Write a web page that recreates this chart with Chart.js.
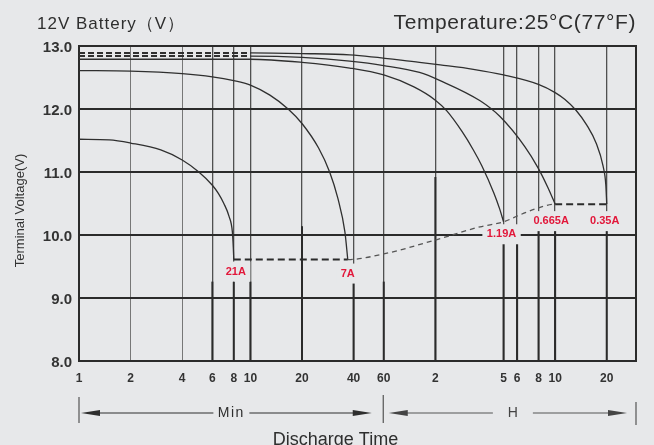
<!DOCTYPE html>
<html>
<head>
<meta charset="utf-8">
<script src="https://cdn.jsdelivr.net/npm/chart.js@4.4.1/dist/chart.umd.min.js"></script>
<style>
  html, body { margin: 0; padding: 0; background: #e7e8ea; }
  #wrap { width: 654px; height: 445px; overflow: hidden; }
</style>
</head>
<body>
<div id="wrap"><canvas id="chart" width="654" height="445"></canvas></div>
<script>
// discharge time in minutes (log axis), terminal voltage in V
var xTickValues = [1, 2, 4, 6, 8, 10, 20, 40, 60, 120, 300, 360, 480, 600, 1200];
var xTickLabels = ['1', '2', '4', '6', '8', '10', '20', '40', '60', '2', '5', '6', '8', '10', '20'];

var curveNames = ['21A', '7A', '1.19A', '0.665A', '0.35A'];

var t21 = [1, 1.5, 2, 3, 4, 5, 6, 6.5, 7, 7.5, 7.85, 7.95, 8];
var v21 = [11.52, 11.51, 11.46, 11.35, 11.19, 11.0, 10.79, 10.66, 10.5, 10.3, 10.05, 9.8, 9.61];

var t7 = [1, 2, 4, 6, 8, 10, 13, 16.6, 20, 25, 29, 32.4, 35.6, 37];
var v7 = [12.61, 12.6, 12.56, 12.51, 12.45, 12.38, 12.22, 12.0, 11.77, 11.38, 11.0, 10.58, 10.05, 9.61];

var t119 = [1, 10, 20, 38, 60, 90, 120, 140, 172, 200, 224, 264, 285, 300];
var v119 = [12.79, 12.79, 12.74, 12.65, 12.54, 12.35, 12.14, 11.97, 11.64, 11.35, 11.1, 10.66, 10.41, 10.21];

var t0665 = [1, 10, 20, 38, 60, 97, 128, 219, 286, 400, 476, 545, 600];
var v0665 = [12.84, 12.84, 12.82, 12.76, 12.69, 12.58, 12.45, 12.13, 11.88, 11.4, 11.07, 10.75, 10.49];

var t035 = [1, 10, 20, 38, 97, 128, 200, 300, 479, 600, 685, 794, 920, 1040, 1141, 1185, 1200];
var v035 = [12.89, 12.89, 12.88, 12.86, 12.74, 12.7, 12.63, 12.54, 12.39, 12.26, 12.15, 11.98, 11.74, 11.46, 11.1, 10.8, 10.49];

// end-of-discharge line
var tCut = [8, 37, 60, 120, 219, 300, 374, 465, 600, 1200];
var vCut = [9.61, 9.61, 9.7, 9.92, 10.13, 10.21, 10.32, 10.42, 10.49, 10.49];

var curveTimes = [t21, t7, t119, t0665, t035];
var curveVolts = [v21, v7, v119, v0665, v035];
var dashedStart = [false, false, false, true, true];

var BG = '#e7e8ea';
var FONT = '"Liberation Sans", Arial, sans-serif';
var labelFont = 'bold 11px ' + FONT;
var labelOffsets = [[2, 12], [0, 14], [-2, 12.5], [-4, 17], [-2, 17]];
// vertical lines drawn darker below a given voltage
var darkLower = [[6, 9.26], [8, 9.26], [10, 9.26], [20, 10.14], [40, 9.26], [60, 9.26],
                 [120, 10.92], [300, 9.89], [360, 9.89], [480, 10.07], [600, 10.07], [1200, 10.07]];

function points(ts, vs) {
  return ts.map(function(t, i) { return { x: t, y: vs[i] }; });
}

var datasets = curveNames.map(function(name, i) {
  var ds = {
    label: name,
    data: points(curveTimes[i], curveVolts[i]),
    borderColor: '#2f2f2f',
    borderWidth: 1.3,
    pointRadius: 0,
    cubicInterpolationMode: 'monotone'
  };
  if (dashedStart[i]) {
    ds.segment = {
      borderDash: function(ctx) { return ctx.p1.parsed.x <= 10 ? [6, 3] : []; },
      borderWidth: function(ctx) { return ctx.p1.parsed.x <= 10 ? 2 : 1.3; }
    };
  }
  return ds;
});

datasets.push({
  label: 'cutoff',
  data: points(tCut, vCut),
  borderColor: '#555',
  borderWidth: 1.3,
  pointRadius: 0,
  cubicInterpolationMode: 'monotone',
  segment: {
    borderDash: function(ctx) { return ctx.p0.parsed.y === ctx.p1.parsed.y ? [7, 4] : [5, 4]; },
    borderWidth: function(ctx) { return ctx.p0.parsed.y === ctx.p1.parsed.y ? 2 : 1.3; },
    borderColor: function(ctx) { return ctx.p0.parsed.y === ctx.p1.parsed.y ? '#2b2b2b' : '#555'; }
  }
});

function labelPositions(chart) {
  return curveNames.map(function(name, i) {
    var els = chart.getDatasetMeta(i).data;
    var last = els[els.length - 1];
    return { text: name, x: last.x + labelOffsets[i][0], y: last.y + labelOffsets[i][1] };
  });
}

function arrowHead(ctx, tipX, y, dir) {
  ctx.beginPath();
  ctx.moveTo(tipX, y);
  ctx.lineTo(tipX - dir * 19, y - 3);
  ctx.lineTo(tipX - dir * 19, y + 3);
  ctx.closePath();
  ctx.fill();
}

function arrowSpan(ctx, x1, x2, y, text, textX, gap) {
  ctx.beginPath();
  ctx.moveTo(x1 + 10, y); ctx.lineTo(textX - gap, y);
  ctx.moveTo(textX + gap, y); ctx.lineTo(x2 - 10, y);
  ctx.stroke();
  arrowHead(ctx, x1, y, -1);
  arrowHead(ctx, x2, y, 1);
  ctx.fillText(text, textX, y);
}

var decor = {
  id: 'decor',
  beforeDatasetsDraw: function(chart) {
    var ctx = chart.ctx, xs = chart.scales.x, ys = chart.scales.y, a = chart.chartArea;
    ctx.save();
    ctx.strokeStyle = '#2b2b2b';
    ctx.lineWidth = 2;
    darkLower.forEach(function(d) {
      var x = xs.getPixelForValue(d[0]);
      ctx.beginPath();
      ctx.moveTo(x, ys.getPixelForValue(d[1]));
      ctx.lineTo(x, a.bottom);
      ctx.stroke();
    });
    ctx.beginPath();
    ctx.moveTo(a.right, a.top - 1);
    ctx.lineTo(a.right, a.bottom + 1);
    ctx.stroke();
    // clear the grid behind the current labels
    ctx.font = labelFont;
    ctx.fillStyle = BG;
    labelPositions(chart).forEach(function(p) {
      var w = ctx.measureText(p.text).width + 9;
      ctx.fillRect(p.x - w / 2, p.y - 10, w, 20);
    });
    ctx.restore();
  },
  afterDatasetsDraw: function(chart) {
    var ctx = chart.ctx;
    ctx.save();
    ctx.font = labelFont;
    ctx.fillStyle = '#e2173a';
    ctx.textAlign = 'center';
    ctx.textBaseline = 'middle';
    labelPositions(chart).forEach(function(p) {
      ctx.fillText(p.text, p.x, p.y);
    });
    ctx.restore();
  },
  afterDraw: function(chart) {
    var ctx = chart.ctx, xs = chart.scales.x, a = chart.chartArea;
    ctx.save();
    ctx.fillStyle = '#2e2e2e';
    ctx.textBaseline = 'alphabetic';

    ctx.font = '17px ' + FONT;
    ctx.letterSpacing = '1px';
    ctx.textAlign = 'left';
    ctx.fillText('12V Battery（V）', 37, 28.5);

    ctx.font = '21px ' + FONT;
    ctx.letterSpacing = '0.6px';
    ctx.textAlign = 'right';
    ctx.fillText('Temperature:25°C(77°F)', 636, 28.5);

    // y axis title
    ctx.letterSpacing = '0px';
    ctx.font = '13px ' + FONT;
    ctx.fillStyle = '#333';
    ctx.save();
    ctx.translate(20, (a.top + a.bottom) / 2 + 7);
    ctx.rotate(-Math.PI / 2);
    ctx.textAlign = 'center';
    ctx.textBaseline = 'middle';
    ctx.fillText('Terminal Voltage(V)', 0, 0);
    ctx.restore();

    // Min / H spans under the axis
    var x1 = xs.getPixelForValue(1), x60 = xs.getPixelForValue(60), xr = a.right;
    var y = a.bottom + 52;
    ctx.strokeStyle = '#555';
    ctx.lineWidth = 1.2;
    ctx.beginPath();
    ctx.moveTo(x1, a.bottom + 36); ctx.lineTo(x1, a.bottom + 62);
    ctx.moveTo(x60 - 0.5, a.bottom + 34); ctx.lineTo(x60 - 0.5, a.bottom + 62);
    ctx.moveTo(xr, a.bottom + 41); ctx.lineTo(xr, a.bottom + 64);
    ctx.stroke();

    ctx.textAlign = 'center';
    ctx.textBaseline = 'middle';
    ctx.fillStyle = '#2e2e2e';
    ctx.strokeStyle = '#2e2e2e';
    ctx.font = '14px ' + FONT;
    ctx.letterSpacing = '1.5px';
    arrowSpan(ctx, x1 + 2, x60 - 12, y, 'Min', (x1 + x60) / 2, 18);
    ctx.fillStyle = '#444';
    ctx.strokeStyle = '#555';
    ctx.letterSpacing = '0px';
    arrowSpan(ctx, x60 + 5, xr - 9, y, 'H', (x60 + xr) / 2 + 3, 20);

    ctx.fillStyle = '#2e2e2e';
    ctx.font = '18px ' + FONT;
    ctx.textBaseline = 'alphabetic';
    ctx.fillText('Discharge Time', (a.left + a.right) / 2 - 22, 445);
    ctx.restore();
  }
};

new Chart(document.getElementById('chart'), {
  type: 'line',
  data: { datasets: datasets },
  options: {
    responsive: false,
    animation: false,
    layout: { padding: { top: 46, right: 18, bottom: 54, left: 0 } },
    plugins: {
      legend: { display: false },
      tooltip: { enabled: false }
    },
    scales: {
      x: {
        type: 'logarithmic',
        min: 1,
        max: 1778,
        afterBuildTicks: function(scale) {
          scale.ticks = xTickValues.map(function(v) { return { value: v }; });
        },
        afterFit: function(scale) { scale.height = 30; },
        ticks: {
          autoSkip: false,
          maxRotation: 0,
          padding: 10,
          color: '#333',
          font: { family: FONT, size: 12, weight: 'bold' },
          callback: function(value, index) { return xTickLabels[index]; }
        },
        grid: {
          drawTicks: false,
          color: function(ctx) {
            var v = ctx.tick && ctx.tick.value;
            return (v === 2 || v === 4) ? '#777' : '#505050';
          },
          lineWidth: function(ctx) {
            var v = ctx.tick && ctx.tick.value;
            return (v === 2 || v === 4) ? 1 : 1.3;
          }
        },
        border: { display: true, color: '#2b2b2b', width: 2 }
      },
      y: {
        min: 8,
        max: 13,
        afterFit: function(scale) { scale.width = 79; },
        ticks: {
          stepSize: 1,
          padding: 7,
          labelOffset: 2,
          color: '#333',
          font: { family: FONT, size: 15, weight: 'bold' },
          callback: function(value) { return value.toFixed(1); }
        },
        grid: { drawTicks: false, color: '#2b2b2b', lineWidth: 2 },
        border: { display: true, color: '#2b2b2b', width: 2 }
      }
    }
  },
  plugins: [decor]
});
</script>
</body>
</html>
